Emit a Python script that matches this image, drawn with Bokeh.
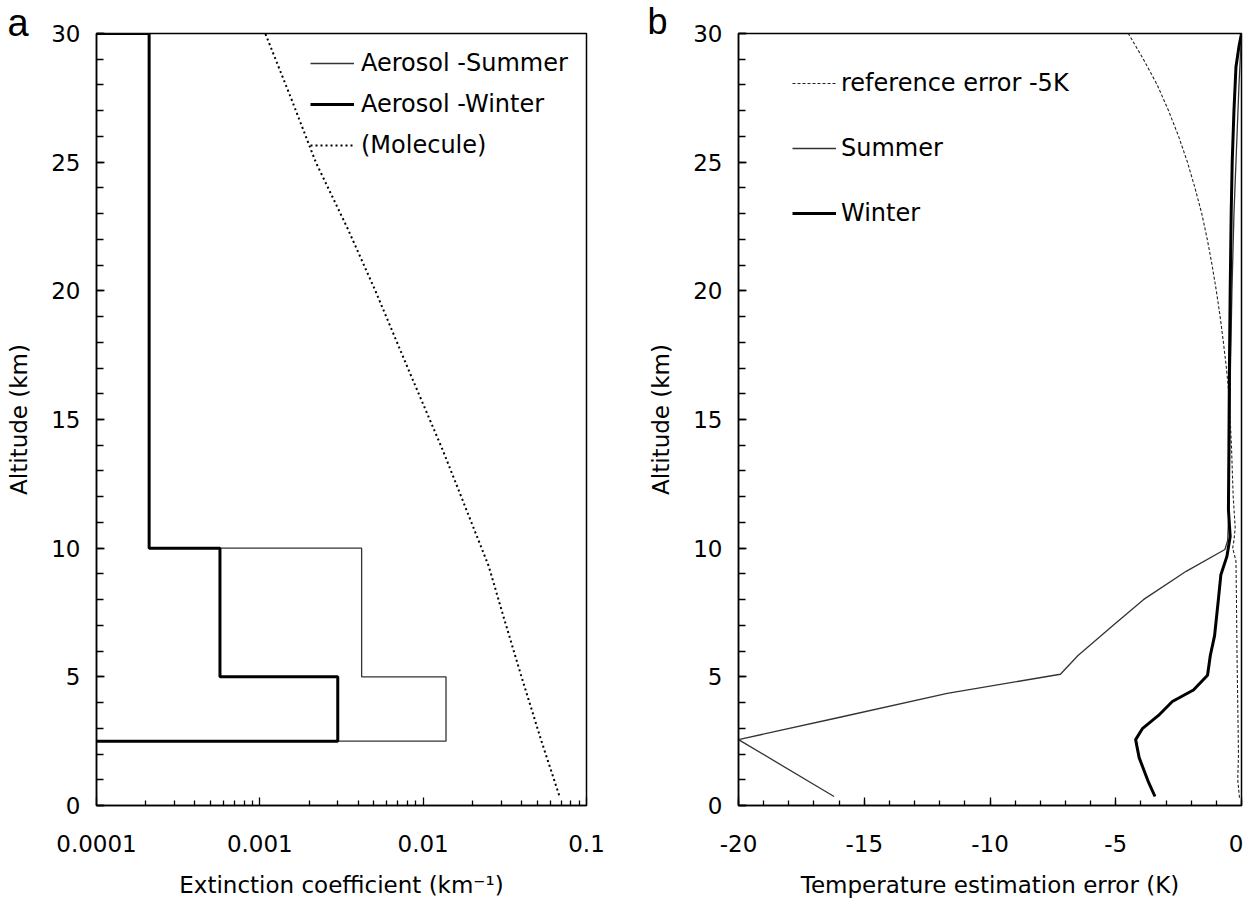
import numpy as np
from bokeh.plotting import figure
from bokeh.models import FixedTicker, Legend, LegendItem, Label, Range1d
from bokeh.layouts import row
from bokeh.embed import file_html
from bokeh.resources import INLINE

# ---------------- Panel a: extinction profiles ----------------
layer_bounds_km = [2.5, 5.0, 10.0, 30.0]
winter_ext = [0.0030, 0.00057, 0.00021]
summer_ext = [0.0138, 0.0042, 0.00021]

mol_alt = [0.4, 2.5, 5.0, 7.5, 9.3, 12.0, 13.8, 16.8, 20.0, 22.4, 25.0, 27.5, 30.0]
mol_ext = [0.068, 0.053, 0.040, 0.0305, 0.0252, 0.0171, 0.0132, 0.0083,
           0.0051, 0.00346, 0.0022, 0.00155, 0.00108]

ext_ticks = [0.0001, 0.001, 0.01, 0.1]
ext_tick_labels = ["0.0001", "0.001", "0.01", "0.1"]

# ---------------- Panel b: temperature errors ----------------
ref_alt = [0.3, 1.0, 2.0, 4.0, 6.0, 8.0, 9.5, 10.0, 10.3, 10.8, 12.0, 14.0, 16.0,
           17.0, 18.0, 19.0, 20.0, 21.0, 22.0, 23.0, 24.0, 25.0, 26.0, 27.0, 28.0,
           29.0, 30.0]
ref_err = [-0.08, -0.15, -0.12, -0.15, -0.18, -0.2, -0.22, -0.35, -0.3, -0.25, -0.33,
           -0.4, -0.5, -0.6, -0.72, -0.85, -1.0, -1.17, -1.36, -1.58, -1.85, -2.15,
           -2.5, -2.9, -3.35, -3.9, -4.5]

summer_alt = [0.35, 2.56, 3.4, 4.36, 5.1, 5.83, 7.0, 8.0, 9.1, 9.95, 10.3, 11.5,
              14.0, 17.0, 20.0, 23.0, 25.5, 28.0, 30.0]
summer_err = [-16.2, -20.0, -16.1, -11.7, -7.2, -6.5, -5.1, -3.9, -2.2, -0.66, -0.55,
              -0.5, -0.47, -0.44, -0.38, -0.3, -0.2, -0.1, 0.0]

winter_alt = [0.35, 0.96, 1.86, 2.56, 3.0, 3.5, 4.04, 4.49, 5.06, 5.83, 6.6, 7.9,
              8.97, 9.68, 10.45, 11.5, 14.0, 17.0, 20.0, 23.0, 25.0, 27.0, 28.7, 29.5, 30.0]
winter_err = [-3.44, -3.72, -4.07, -4.21, -3.93, -3.3, -2.75, -1.91, -1.35, -1.24,
              -1.07, -0.93, -0.82, -0.58, -0.45, -0.52, -0.5, -0.48, -0.45, -0.41,
              -0.37, -0.3, -0.22, -0.1, 0.0]

err_ticks = [-20, -15, -10, -5, 0]
err_tick_labels = ["-20", "-15", "-10", "-5", "0"]
alt_ticks = [0, 5, 10, 15, 20, 25, 30]

FONT = "DejaVu Sans"
TICK_FS = "23px"
LABEL_FS = "23px"
LEG_FS = "24px"


def step_outline(bounds, ext, x_left):
    xs, ys = [x_left], [bounds[0]]
    for i, e in enumerate(ext):
        xs += [e, e]
        ys += [bounds[i], bounds[i + 1]]
    xs.append(x_left)
    ys.append(bounds[-1])
    return xs, ys


def style(p, xlabel):
    p.grid.visible = False
    p.outline_line_color = "black"
    p.outline_line_width = 1.5
    p.background_fill_color = "white"
    p.border_fill_color = "white"
    for ax in (p.xaxis[0], p.yaxis[0]):
        ax.axis_line_color = "black"
        ax.axis_line_width = 1.5
        ax.major_tick_line_color = "black"
        ax.minor_tick_line_color = "black"
        ax.major_tick_line_width = 1.3
        ax.minor_tick_line_width = 1.3
        ax.major_tick_out = 0
        ax.minor_tick_out = 0
        ax.major_label_text_font = FONT
        ax.major_label_text_font_size = TICK_FS
        ax.major_label_text_color = "black"
        ax.axis_label_text_font = FONT
        ax.axis_label_text_font_size = LABEL_FS
        ax.axis_label_text_font_style = "normal"
        ax.axis_label_text_color = "black"
    p.xaxis[0].major_tick_in = 8
    p.xaxis[0].minor_tick_in = 5
    p.yaxis[0].major_tick_in = 8
    p.yaxis[0].minor_tick_in = 7
    p.xaxis[0].major_label_standoff = 29
    p.xaxis[0].axis_label_standoff = 17
    p.yaxis[0].major_label_standoff = 16
    p.yaxis[0].axis_label_standoff = 16
    p.xaxis[0].axis_label = xlabel
    p.yaxis[0].axis_label = "Altitude (km)"
    p.yaxis[0].ticker = FixedTicker(ticks=alt_ticks, minor_ticks=list(range(0, 31)))


def make_legend(items, loc, spacing, standoff):
    return Legend(items=items, location=loc, glyph_width=44, glyph_height=24,
                  label_height=24, label_standoff=standoff, spacing=spacing,
                  padding=0, margin=0, border_line_color=None, background_fill_alpha=0,
                  label_text_font=FONT, label_text_font_size=LEG_FS,
                  label_text_color="black")


# ---------------- figure a ----------------
pa = figure(x_axis_type="log", x_range=Range1d(ext_ticks[0], ext_ticks[-1]),
            y_range=Range1d(0, 30), frame_width=490, frame_height=772,
            min_border_left=96, min_border_right=33, min_border_top=33,
            min_border_bottom=96, output_backend="svg", toolbar_location=None)
style(pa, "Extinction coefficient (km\u207b\u00b9)")
minor_log = [m * 10.0 ** e for e in (-4, -3, -2) for m in range(2, 10)]
pa.xaxis[0].ticker = FixedTicker(ticks=ext_ticks, minor_ticks=minor_log)
pa.xaxis[0].major_label_overrides = {t: l for t, l in zip(ext_ticks, ext_tick_labels)}

sx, sy = step_outline(layer_bounds_km, summer_ext, ext_ticks[0])
wx, wy = step_outline(layer_bounds_km, winter_ext, ext_ticks[0])
r_sum = pa.line(sx, sy, line_color="#333333", line_width=1.3)
r_win = pa.line(wx, wy, line_color="black", line_width=3)
r_mol = pa.line(mol_ext, mol_alt, line_color="black", line_width=2, line_dash="2 3")

pa.add_layout(make_legend([LegendItem(label="Aerosol -Summer", renderers=[r_sum]),
                           LegendItem(label="Aerosol -Winter", renderers=[r_win]),
                           LegendItem(label="(Molecule)", renderers=[r_mol])],
                          (214, 646), 13, 7))
pa.add_layout(Label(x=7, y=22, x_units="canvas", y_units="canvas", text="a",
                    text_font="Liberation Sans", text_font_size="38px",
                    text_color="black", text_baseline="alphabetic"), "right")

# ---------------- figure b ----------------
pb = figure(x_range=Range1d(err_ticks[0], err_ticks[-1]), y_range=Range1d(0, 30),
            frame_width=503, frame_height=772, min_border_left=119, min_border_right=2,
            min_border_top=33, min_border_bottom=96, output_backend="svg",
            toolbar_location=None)
style(pb, "Temperature estimation error (K)")
pb.xaxis[0].ticker = FixedTicker(ticks=err_ticks, minor_ticks=list(range(-20, 1)))
pb.xaxis[0].major_label_overrides = {t: l for t, l in zip(err_ticks, err_tick_labels)}

r_ref = pb.line(ref_err, ref_alt, line_color="#222222", line_width=1.1, line_dash="3 2")
r_bs = pb.line(summer_err, summer_alt, line_color="#333333", line_width=1.3)
r_bw = pb.line(winter_err, winter_alt, line_color="black", line_width=3)

pb.add_layout(make_legend([LegendItem(label="reference error -5K", renderers=[r_ref]),
                           LegendItem(label="Summer", renderers=[r_bs]),
                           LegendItem(label="Winter", renderers=[r_bw])],
                          (54, 578), 37, 5))
pb.add_layout(Label(x=28, y=21, x_units="canvas", y_units="canvas", text="b",
                    text_font="Liberation Sans", text_font_size="36px",
                    text_color="black", text_baseline="alphabetic"), "left")

layout = row(pa, pb)
open("out.html", "w").write(file_html(layout, INLINE))
